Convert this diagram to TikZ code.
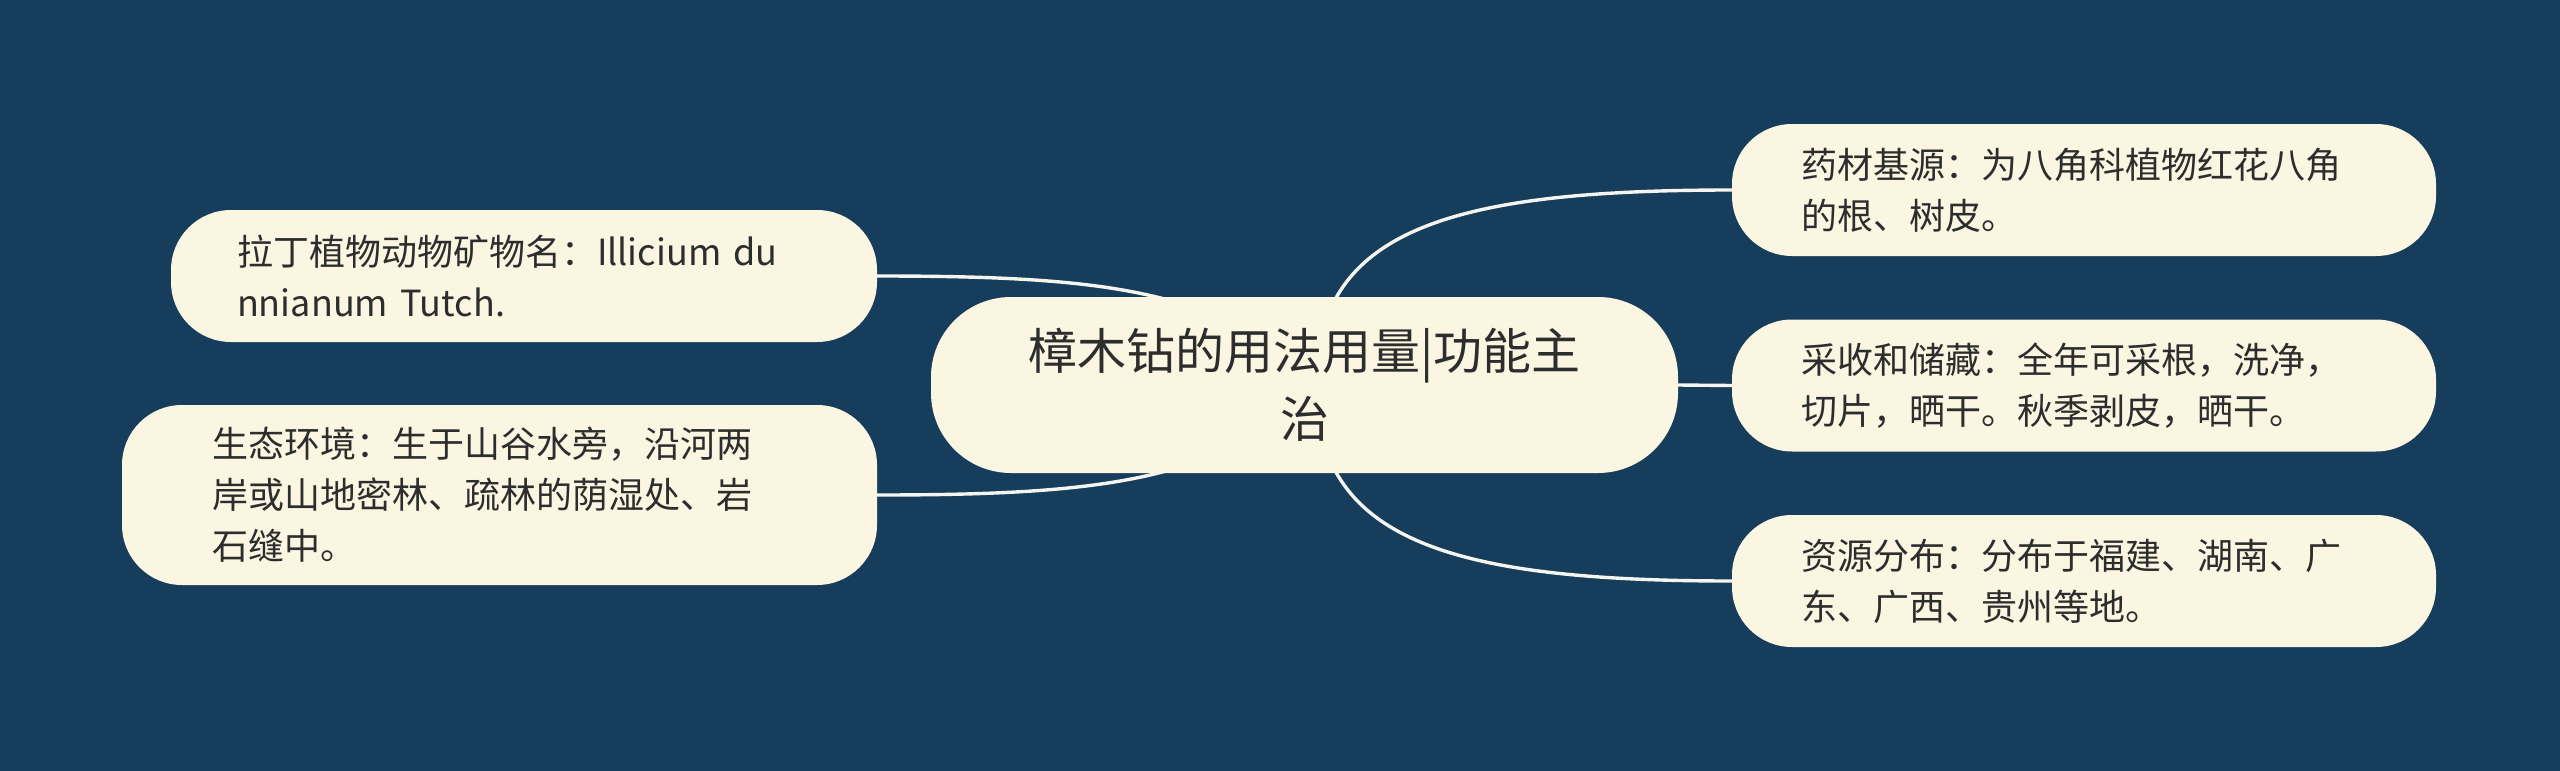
\documentclass[tikz,border=0pt]{standalone}
\usepackage{fontspec}
\newfontfamily\cjk{Noto Sans CJK SC}
\definecolor{bgblue}{RGB}{23,61,93}
\definecolor{cream}{RGB}{250,246,226}
\definecolor{txt}{RGB}{45,45,45}
\definecolor{edgecol}{RGB}{245,245,240}
\pgfdeclarelayer{edgelayer}
\pgfsetlayers{edgelayer,main}
\tikzset{
  leaf/.style={fill=cream, rounded corners=60, align=left, text=txt,
    font=\cjk\fontsize{36}{51}\selectfont, inner ysep=0pt, minimum height=132},
  root/.style={fill=cream, rounded corners=80, align=center, text=txt,
    font=\cjk\fontsize{49}{68}\selectfont, inner ysep=0pt, minimum height=176,
    minimum width=747, text width=640},
  link/.style={draw=edgecol, line width=3.4pt}
}
\begin{document}
\begin{tikzpicture}[x=1pt,y=-1pt]
\useasboundingbox (0,0) rectangle (2560,771);
\begin{pgfonlayer}{edgelayer}
\fill[bgblue] (0,0) rectangle (2560,771);
\end{pgfonlayer}

\node[root] (C) at (1304.5,385) {樟木钻的用法用量|功能主\\治};

\node[leaf, text width=574, inner xsep=66] (L1) at (524,276)
  {拉丁植物动物矿物名：Illicium du\\nnianum Tutch.};
\node[leaf, text width=575, inner xsep=90, minimum height=180] (L2) at (499.5,495)
  {生态环境：生于山谷水旁，沿河两\\岸或山地密林、疏林的荫湿处、岩\\石缝中。};

\node[leaf, text width=566, inner xsep=69] (R1) at (2084,190)
  {药材基源：为八角科植物红花八角\\的根、树皮。};
\node[leaf, text width=566, inner xsep=69] (R2) at (2084,385.5)
  {采收和储藏：全年可采根，洗净，\\切片，晒干。秋季剥皮，晒干。};
\node[leaf, text width=566, inner xsep=69] (R3) at (2084,581)
  {资源分布：分布于福建、湖南、广\\东、广西、贵州等地。};

\coordinate (cl) at (1320,385);
\coordinate (cr) at (1316,385);

\begin{pgfonlayer}{edgelayer}
\draw[link] (L1.east) .. controls +(230,0) and (1220,290) .. (cl);
\draw[link] (L2.east) .. controls +(230,0) and (1220,480) .. (cl);
\draw[link] (cr) .. controls (1316,230) and (1450,190) .. (R1.west);
\draw[link] (C.east) -- (R2.west);
\draw[link] (cr) .. controls (1316,540) and (1450,581) .. (R3.west);
\end{pgfonlayer}
\end{tikzpicture}
\end{document}
